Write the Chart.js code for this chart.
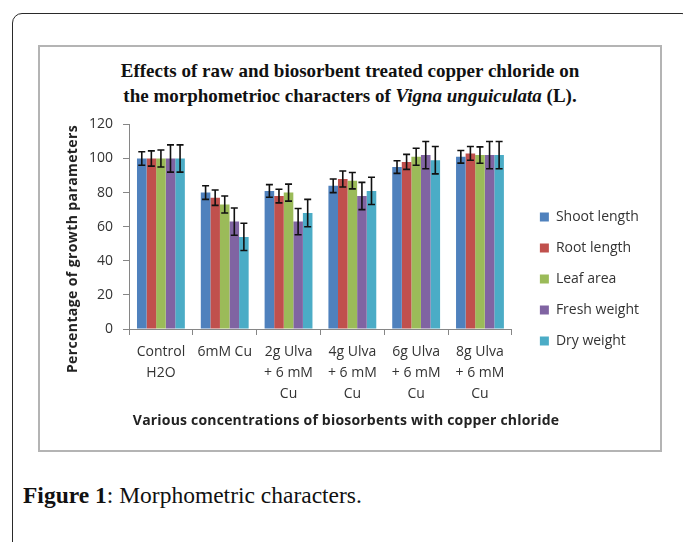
<!DOCTYPE html>
<html>
<head>
<meta charset="utf-8">
<script src="https://cdn.jsdelivr.net/npm/chart.js@4.4.1/dist/chart.umd.min.js"></script>
<style>
  html, body { margin: 0; padding: 0; background: #fff; }
  body { width: 683px; height: 542px; position: relative; overflow: hidden; }
  #outer { position: absolute; left: 12px; top: 13px; width: 680px; height: 600px;
           border: 1.5px solid #2a2a2a; border-radius: 10px; box-sizing: border-box; }
  #inner { position: absolute; left: 38px; top: 45px; width: 624px; height: 407px;
           border: 2px solid #b4b4b4; box-sizing: border-box; background: #fff; }
  #title { position: absolute; left: 38px; width: 624px; top: 58px; text-align: center;
           font-family: "Liberation Serif", serif; font-weight: bold; font-size: 19px;
           line-height: 25px; color: #111; }
  #ytitle { position: absolute; left: 72px; top: 249px; width: 300px; height: 20px;
            margin-left: -150px; margin-top: -10px; line-height: 20px; text-align: center;
            transform: rotate(-90deg); font-family: "Open Sans", sans-serif; font-weight: bold;
            font-size: 14px; letter-spacing: 0.4px; color: #222; white-space: nowrap; }
  #xtitle { position: absolute; left: 46px; width: 600px; top: 410px; height: 20px; line-height: 20px;
            text-align: center; font-family: "Open Sans", sans-serif; font-weight: bold;
            font-size: 14px; letter-spacing: 0.2px; color: #222; white-space: nowrap; }
  #wrap { position: absolute; left: 44px; top: 106px; width: 620px; height: 310px; }
  #caption { position: absolute; left: 23px; top: 483px; font-family: "Liberation Serif", serif;
             font-size: 23.5px; line-height: 24px; color: #111; white-space: nowrap; }
  #caption b { font-weight: bold; }
</style>
</head>
<body>
<div id="outer"></div>
<div id="inner"></div>
<div id="title">Effects of raw and biosorbent treated copper chloride on<br>the morphometrioc characters of <i>Vigna unguiculata</i> (L).</div>
<div id="wrap"><canvas id="c"></canvas></div>
<div id="ytitle">Percentage of growth parameters</div>
<div id="xtitle">Various concentrations of biosorbents with copper chloride</div>
<div id="caption"><b>Figure 1</b>: Morphometric characters.</div>
<script>
const categories = [
  ["Control", "H2O"],
  ["6mM Cu"],
  ["2g Ulva", "+ 6 mM", "Cu"],
  ["4g Ulva", "+ 6 mM", "Cu"],
  ["6g Ulva", "+ 6 mM", "Cu"],
  ["8g Ulva", "+ 6 mM", "Cu"]
];
const seriesNames = ["Shoot length", "Root length", "Leaf area", "Fresh weight", "Dry weight"];
const shootLength = [100, 80, 81, 84, 95, 101];
const rootLength  = [100, 77, 78, 88, 98, 103];
const leafArea    = [100, 73, 80, 87, 101, 102];
const freshWeight = [100, 63, 63, 78, 102, 102];
const dryWeight   = [100, 54, 68, 81, 99, 102];
const shootErr = [4, 4, 3.7, 4, 3.7, 3.7];
const rootErr  = [4.5, 4.5, 4, 4.7, 4.4, 4];
const leafErr  = [5, 5, 5, 4.8, 5, 4.8];
const freshErr = [8, 8, 7.7, 8, 8, 8];
const dryErr   = [8, 8, 8, 8, 8, 8];
const yTicks = [0, 20, 40, 60, 80, 100, 120];

const colors = ["#4F81BD", "#C0504D", "#9BBB59", "#8064A2", "#4BACC6"];
const values = [shootLength, rootLength, leafArea, freshWeight, dryWeight];
const errors = [shootErr, rootErr, leafErr, freshErr, dryErr];

const errorBars = {
  id: 'errorBars',
  afterDatasetsDraw(chart) {
    const ctx = chart.ctx;
    const y = chart.scales.y;
    ctx.save();
    ctx.strokeStyle = '#111';
    ctx.lineWidth = 1.6;
    chart.data.datasets.forEach((ds, i) => {
      const meta = chart.getDatasetMeta(i);
      meta.data.forEach((bar, j) => {
        const v = ds.data[j], e = ds.errors[j];
        const yHi = y.getPixelForValue(v + e);
        const yLo = y.getPixelForValue(v - e);
        const x = bar.x;
        ctx.beginPath();
        ctx.moveTo(x, yHi); ctx.lineTo(x, yLo);
        ctx.moveTo(x - 3.5, yHi); ctx.lineTo(x + 3.5, yHi);
        ctx.moveTo(x - 3.5, yLo); ctx.lineTo(x + 3.5, yLo);
        ctx.stroke();
      });
    });
    ctx.restore();
  }
};

// extra gap between plot area and legend, and a small downward shift of the legend block
const LEGEND_GAP = 11, LEGEND_SHIFT = 18;
const legendNudge = {
  id: 'legendNudge',
  beforeLayout(chart) {
    const lg = chart.legend;
    if (lg && !lg.__nudged) {
      const fit = lg.fit;
      lg.fit = function () { fit.call(this); this.width += LEGEND_GAP; };
      lg.__nudged = true;
    }
  },
  afterLayout(chart) {
    const lg = chart.legend;
    if (lg) { lg.left += LEGEND_GAP; lg.top += LEGEND_SHIFT; lg.bottom += LEGEND_SHIFT; }
  }
};

const tickFont = { family: "'Open Sans', sans-serif", size: 14 };

new Chart(document.getElementById('c'), {
  type: 'bar',
  data: {
    labels: categories,
    datasets: seriesNames.map((n, i) => ({
      label: n,
      data: values[i],
      errors: errors[i],
      backgroundColor: colors[i],
      borderWidth: 0,
      categoryPercentage: 0.75,
      barPercentage: 1.0
    }))
  },
  options: {
    responsive: true,
    maintainAspectRatio: false,
    animation: false,
    layout: { padding: { left: 35, right: 15, top: 4, bottom: 4 } },
    plugins: {
      legend: {
        position: 'right',
        align: 'center',
        labels: {
          boxWidth: 9, boxHeight: 9, padding: 17,
          color: '#333', font: tickFont
        }
      },
      title: { display: false },
      tooltip: { enabled: false }
    },
    scales: {
      x: {
        grid: { display: true, drawOnChartArea: false, drawTicks: true, tickLength: 6, color: '#868686', offset: true },
        border: { color: '#868686' },
        ticks: { color: '#333', font: { family: "'Open Sans', sans-serif", size: 14, lineHeight: 1.5 },
                 maxRotation: 0, autoSkip: false, padding: 7 }
      },
      y: {
        min: 0, max: 120,
        afterBuildTicks(scale) { scale.ticks = yTicks.map(v => ({ value: v })); },
        grid: { display: true, drawOnChartArea: false, drawTicks: true, tickLength: 6, color: '#868686' },
        border: { color: '#868686' },
        ticks: { color: '#333', font: tickFont, padding: 10 }
      }
    }
  },
  plugins: [errorBars, legendNudge]
});
</script>
</body>
</html>
